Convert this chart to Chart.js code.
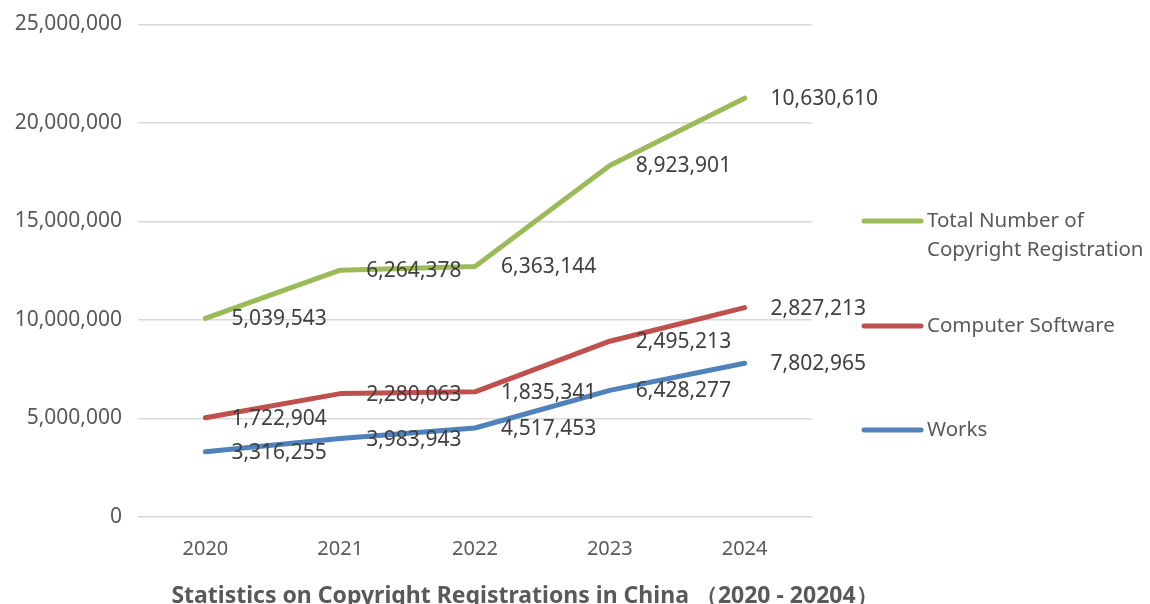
<!DOCTYPE html>
<html>
<head>
<meta charset="utf-8">
<script src="https://cdn.jsdelivr.net/npm/chart.js@4"></script>
<style>
  html, body { margin: 0; padding: 0; background: #fff; }
  #wrap { width: 1150px; height: 604px; }
</style>
</head>
<body>
<div id="wrap"><canvas id="chart-copyright"></canvas></div>
<script>
{ // scoping

// data
const years = ['2020', '2021', '2022', '2023', '2024'];
const works = [3316255, 3983943, 4517453, 6428277, 7802965];
const software = [1722904, 2280063, 1835341, 2495213, 2827213];
const total = [5039543, 6264378, 6363144, 8923901, 10630610];
const yTicks = [0, 5000000, 10000000, 15000000, 20000000, 25000000];
const titleText = 'Statistics on Copyright Registrations in China （2020 - 20204）';

const FONT = '"Noto Sans", "Open Sans", sans-serif';

// legend entries, top to bottom (text lines + y position in px)
const legendItems = [
  { lines: ['Total Number of', 'Copyright Registration'], color: '#9BBB59', y: 221 },
  { lines: ['Computer Software'], color: '#C0504D', y: 326 },
  { lines: ['Works'], color: '#4F81BD', y: 430 }
];

// labels to the right of each point (Excel "right" position)
const pointLabels = {
  id: 'pointLabels',
  afterDraw(chart) {
    const ctx = chart.ctx;
    ctx.save();
    ctx.font = '21px ' + FONT;
    ctx.fillStyle = '#404040';
    ctx.textAlign = 'left';
    ctx.textBaseline = 'middle';
    chart.data.datasets.forEach((ds, i) => {
      const meta = chart.getDatasetMeta(i);
      meta.data.forEach((pt, j) => {
        ctx.fillText(ds.data[j].toLocaleString('en-US'), pt.x + 26, pt.y + 1);
      });
    });
    ctx.restore();
  }
};

// right side legend drawn by hand
const sideLegend = {
  id: 'sideLegend',
  afterDraw(chart) {
    const ctx = chart.ctx;
    const x0 = chart.chartArea.right + 52;
    ctx.save();
    ctx.font = '20.5px ' + FONT;
    ctx.textAlign = 'left';
    ctx.textBaseline = 'middle';
    legendItems.forEach(item => {
      ctx.strokeStyle = item.color;
      ctx.lineWidth = 5;
      ctx.lineCap = 'round';
      ctx.beginPath();
      ctx.moveTo(x0, item.y);
      ctx.lineTo(x0 + 57, item.y);
      ctx.stroke();
      ctx.fillStyle = '#595959';
      item.lines.forEach((t, k) => ctx.fillText(t, x0 + 63, item.y + k * 29));
    });
    ctx.restore();
  }
};

const ctx = document.getElementById('chart-copyright').getContext('2d');

const myChart = new Chart(ctx, {
  type: 'line',
  data: {
    labels: years,
    datasets: [
      { label: 'Works', data: works, borderColor: '#4F81BD' },
      { label: 'Computer Software', data: software, borderColor: '#C0504D' },
      { label: 'Total Number of Copyright Registration', data: total, borderColor: '#9BBB59' }
    ].map(d => Object.assign(d, {
      borderWidth: 5,
      pointRadius: 0,
      fill: false,
      tension: 0,
      borderCapStyle: 'round',
      borderJoinStyle: 'round'
    }))
  },
  options: {
    responsive: true,
    maintainAspectRatio: false,
    animation: false,
    layout: { padding: { top: 24.5, right: 100, left: 0, bottom: 0 } },
    plugins: {
      legend: { display: false },
      tooltip: { enabled: false },
      title: {
        display: true,
        position: 'bottom',
        text: titleText,
        color: '#595959',
        font: { family: FONT, size: 23, weight: 'bold', lineHeight: 1.15 },
        padding: { top: 6, bottom: -6 }
      }
    },
    scales: {
      x: {
        offset: true,
        grid: { display: false },
        border: { display: false },
        ticks: {
          color: '#595959',
          font: { family: FONT, size: 20 },
          padding: 12
        },
        afterFit(scale) { scale.height = 604 - 517 - 23 * 1.15; }
      },
      y: {
        stacked: true,
        min: yTicks[0],
        max: yTicks[yTicks.length - 1],
        afterBuildTicks(scale) { scale.ticks = yTicks.map(v => ({ value: v })); },
        grid: { color: '#d9d9d9', lineWidth: 1.5, drawTicks: false },
        border: { display: false },
        ticks: {
          color: '#595959',
          font: { family: FONT, size: 21 },
          padding: 16,
          callback: v => v.toLocaleString('en-US')
        },
        afterFit(scale) {
          scale.width = 138;
          scale.paddingTop = 0;
          scale.paddingBottom = 0;
        }
      },
      // empty right axis that reserves the legend space
      legendSpace: {
        position: 'right',
        grid: { display: false },
        border: { display: false },
        ticks: { display: false },
        afterFit(scale) { scale.width = 238; }
      }
    }
  },
  plugins: [pointLabels, sideLegend]
});

} // scoping
</script>
</body>
</html>
